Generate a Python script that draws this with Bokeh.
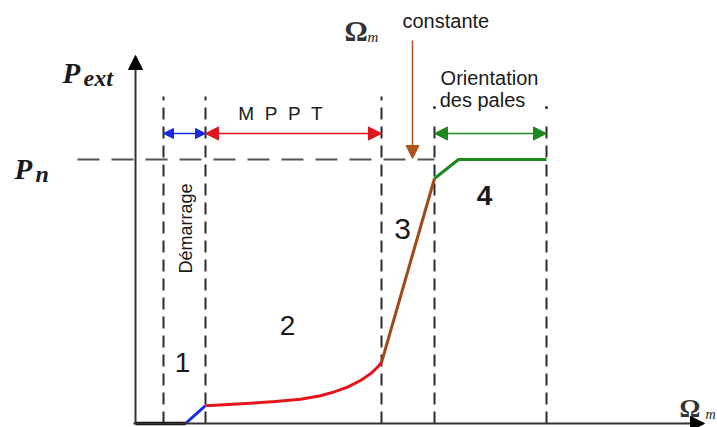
import math
from bokeh.plotting import figure
from bokeh.models import Range1d, Label, Arrow, NormalHead
from bokeh.embed import file_html
from bokeh.resources import INLINE

# ---- data (chart units: Omega_m on x, P_ext on y, P_n = 1) ----
omega_bounds = [0.28, 0.70, 2.46, 2.99, 4.11]   # zone boundaries
P_n = 1.0
zone_labels = ["1", "2", "3", "4"]

omega_off = [0.00, 0.50]
p_off = [0.00, 0.00]

omega_start = [0.50, 0.70]
p_start = [0.00, 0.068]

omega_mppt = [0.70, 0.75, 1.15, 1.40, 1.65, 1.85, 1.98, 2.12, 2.25, 2.35, 2.42, 2.46]
p_mppt = [0.068, 0.068, 0.077, 0.083, 0.092, 0.105, 0.119, 0.138, 0.163, 0.188, 0.213, 0.231]

omega_const = [2.46, 2.99]
p_const = [0.231, 0.928]

omega_pitch = [2.99, 3.23, 4.11]
p_pitch = [0.928, 1.00, 1.00]

# ---- helpers converting layout positions (reference pixels) to chart units ----
def X(px):
    return (px - 135) / 100.0

def Y(py):
    return (423 - py) / 264.0

W, H = 717, 427
p = figure(width=W, height=H, output_backend="svg", toolbar_location=None,
           x_range=Range1d(X(0), X(717)), y_range=Range1d(Y(427), Y(0)),
           min_border=0, min_border_left=0, min_border_right=0,
           min_border_top=0, min_border_bottom=0)
p.axis.visible = False
p.xgrid.visible = False
p.ygrid.visible = False
p.outline_line_color = None
p.background_fill_color = "white"
p.border_fill_color = "white"

DASH_COL = "#2b2b2b"

# vertical dashed zone boundaries
tops = [Y(96), Y(96), Y(96), Y(120), Y(120)]
p.segment(x0=omega_bounds, y0=[0] * 5, x1=omega_bounds, y1=tops,
          line_color=DASH_COL, line_width=2, line_dash="12 7")
p.scatter(x=omega_bounds[3:], y=[Y(107)] * 2, size=3, marker="circle",
          fill_color=DASH_COL, line_color=None)

# horizontal dashed P_n line
p.line(x=[X(77), omega_bounds[3]], y=[P_n, P_n], line_color="#555555",
       line_width=2, line_dash="22 12")

# axes with arrows
AX = "#333333"
p.add_layout(Arrow(x_start=0, y_start=0, x_end=0, y_end=Y(55), line_color=AX,
                   line_width=2,
                   end=NormalHead(size=14, fill_color="black", line_color="black")))
p.add_layout(Arrow(x_start=X(133), y_start=0, x_end=X(704), y_end=0, line_color=AX,
                   line_width=2,
                   end=NormalHead(size=14, fill_color="black", line_color="black")))

# characteristic curve
p.line(omega_off, p_off, line_color="black", line_width=3.5)
p.line(omega_start, p_start, line_color="#1a2be0", line_width=3)
p.line(omega_mppt, p_mppt, line_color="#e3141c", line_width=3, line_join="round")
p.line(omega_const, p_const, line_color="#a4481a", line_width=3)
p.line(omega_pitch, p_pitch, line_color="#1e8a1e", line_width=3)

# double arrows over the zones
ya = Y(133)
for (a, b, col, sz) in [(omega_bounds[0], omega_bounds[1], "#1a2be0", 10),
                        (omega_bounds[1], omega_bounds[2], "#e3141c", 13),
                        (omega_bounds[3], omega_bounds[4], "#1e8a1e", 13)]:
    p.add_layout(Arrow(x_start=a, y_start=ya, x_end=b, y_end=ya, line_color=col,
                       line_width=1.5,
                       start=NormalHead(size=sz, fill_color=col, line_color=col),
                       end=NormalHead(size=sz, fill_color=col, line_color=col)))

# brown "Omega_m constante" arrow
BR = "#b0531e"
p.add_layout(Arrow(x_start=X(412), y_start=Y(40), x_end=X(412), y_end=Y(158),
                   line_color=BR, line_width=1.5,
                   end=NormalHead(size=13, fill_color=BR, line_color=BR)))

SANS = "Liberation Sans"
SERIF = "Liberation Serif"
TXT = "#1a1a1a"

def lab(x, y, text, size, font=SANS, style="normal", align="center",
        baseline="middle", angle=0.0, color=TXT):
    p.add_layout(Label(x=x, y=y, text=text, text_font=font, text_font_size=size,
                       text_font_style=style, text_align=align,
                       text_baseline=baseline, angle=angle, text_color=color))

NB = "\u00a0\u00a0"

# zone numbers
lab(X(182), Y(362), zone_labels[0], "28px")
lab(X(287), Y(325), zone_labels[1], "28px")
lab(X(402), Y(228), zone_labels[2], "30px")
lab(X(484), Y(195), zone_labels[3], "28px", style="bold")

# zone names
lab(X(185), Y(228), "Démarrage", "18px", angle=math.pi / 2)
lab(X(280), Y(113), NB.join(["M", "P", "P", "T"]), "19px")
lab(X(489), Y(77), "Orientation", "20px")
lab(X(482), Y(99), "des pales", "20px")
lab(X(402), Y(20), "constante", "20px", align="left")

# axis symbols
lab(X(62), Y(72), "P", "29px", font=SERIF, style="bold italic", align="left",
    baseline="alphabetic")
lab(X(83), Y(77), "ext", "24px", font=SERIF, style="bold italic", align="left",
    baseline="alphabetic")
lab(X(14), Y(168), "P", "29px", font=SERIF, style="bold italic", align="left",
    baseline="alphabetic")
lab(X(35), Y(173), "n", "24px", font=SERIF, style="bold italic", align="left",
    baseline="alphabetic")
lab(X(344), Y(30), "Ω", "29px", font=SERIF, style="bold", align="left",
    baseline="alphabetic", color="#333333")
lab(X(367), Y(36), "m", "15px", font=SERIF, style="italic", align="left",
    baseline="alphabetic")
lab(X(679), Y(408), "Ω", "26px", font=SERIF, style="bold", align="left",
    baseline="alphabetic", color="#333333")
lab(X(705), Y(414), "m", "14px", font=SERIF, style="italic", align="left",
    baseline="alphabetic")

open("out.html", "w").write(file_html(p, INLINE))
